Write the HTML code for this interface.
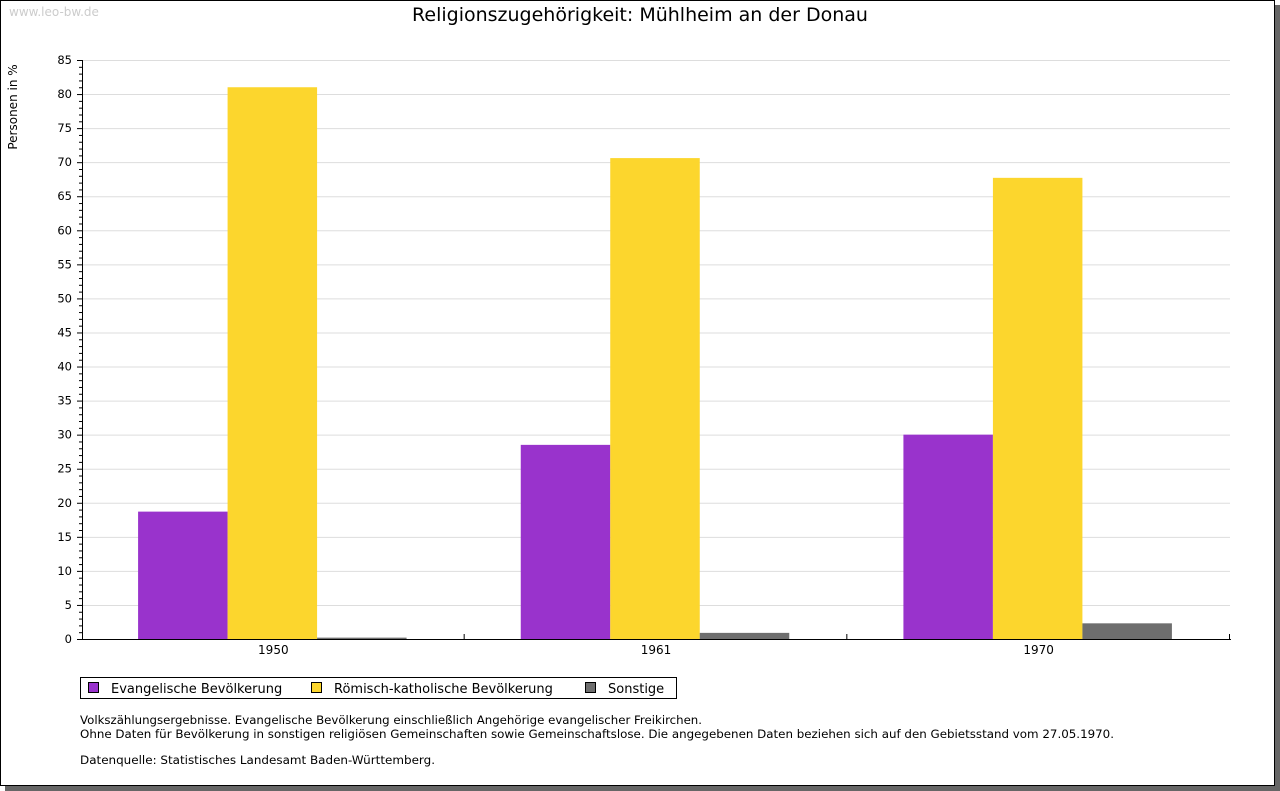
<!DOCTYPE html>
<html><head><meta charset="utf-8"><style>
html,body{margin:0;padding:0;background:#fff;width:1280px;height:791px;overflow:hidden}
svg{display:block;font-family:"DejaVu Sans","Liberation Sans",sans-serif}
</style></head><body>
<svg id="c" width="1280" height="791" xmlns="http://www.w3.org/2000/svg">
<rect x="5" y="5" width="1275" height="786" fill="#666"/>
<rect x="0.5" y="0.5" width="1274" height="785" fill="#fff" stroke="#000"/>
<text x="9" y="16" font-size="12" fill="#ccc">www.leo-bw.de</text>
<text x="640" y="21" font-size="19" text-anchor="middle" fill="#000">Religionszugehörigkeit: Mühlheim an der Donau</text>
<text transform="translate(17,107) rotate(-90)" font-size="12" text-anchor="middle">Personen in %</text>
<g id="grid"></g><g id="bars"></g><g id="axes"></g>
<rect x="80.5" y="677.5" width="596" height="21" fill="#fff" stroke="#000"/>
<g><rect x="88.5" y="682.5" width="10" height="10" fill="#9933cc" stroke="#000"/><text x="111" y="693" font-size="13">Evangelische Bevölkerung</text></g>
<g><rect x="311.5" y="682.5" width="10" height="10" fill="#fcd62d" stroke="#000"/><text x="334" y="693" font-size="13">Römisch-katholische Bevölkerung</text></g>
<g><rect x="585.5" y="682.5" width="10" height="10" fill="#6e6e6e" stroke="#000"/><text x="608" y="693" font-size="13">Sonstige</text></g>
<g font-size="11.9">
<text x="80" y="724" textLength="622" lengthAdjust="spacingAndGlyphs">Volkszählungsergebnisse. Evangelische Bevölkerung einschließlich Angehörige evangelischer Freikirchen.</text>
<text x="80" y="738" textLength="1034" lengthAdjust="spacingAndGlyphs">Ohne Daten für Bevölkerung in sonstigen religiösen Gemeinschaften sowie Gemeinschaftslose. Die angegebenen Daten beziehen sich auf den Gebietsstand vom 27.05.1970.</text>
<text x="80" y="764" textLength="355" lengthAdjust="spacingAndGlyphs">Datenquelle: Statistisches Landesamt Baden-Württemberg.</text>
</g>
</svg>
<script>
const categories=["1950","1961","1970"];
const evangelisch=[18.7,28.5,30.0];
const katholisch=[81.0,70.6,67.7];
const sonstige=[0.2,0.9,2.3];
const yTicks=[0,5,10,15,20,25,30,35,40,45,50,55,60,65,70,75,80,85];
const NS="http://www.w3.org/2000/svg";
const X0=82,X1=1230,Y0=639,Y1=60,YMAX=85;
const y=v=>Y0-(v/YMAX)*(Y0-Y1);
const gw=(X1-X0)/categories.length;
const bw=89.5;
function mk(tag,attrs,parent){const e=document.createElementNS(NS,tag);for(const k in attrs)e.setAttribute(k,attrs[k]);parent.appendChild(e);return e;}
const grid=document.getElementById('grid'),bars=document.getElementById('bars'),axes=document.getElementById('axes');
yTicks.forEach(t=>{
  if(t>0){const l=mk('line',{x1:X0,x2:X1,y1:y(t)+.5,y2:y(t)+.5,stroke:'#dddddd'},grid);
  
  }
  const tx=mk('text',{x:X0-10,y:y(t)+4,'font-size':11.5,'text-anchor':'end'},axes);tx.textContent=t;
  
  
  mk('line',{x1:X0-5,x2:X0,y1:y(t)+.5,y2:y(t)+.5,stroke:'#000'},axes);
});
for(let v=1;v<YMAX;v++){if(v%5)mk('line',{x1:X0-3,x2:X0,y1:y(v)+.5,y2:y(v)+.5,stroke:'#000'},axes);}
const series=[[evangelisch,'#9933cc','bar-evangelisch'],[katholisch,'#fcd62d','bar-katholisch'],[sonstige,'#6e6e6e','bar-sonstige']];
categories.forEach((c,i)=>{
  const gx=X0+i*gw+(gw-3*bw)/2-1;
  series.forEach((s,j)=>{
    const v=s[0][i];
    const r=mk('rect',{x:gx+j*bw,y:y(v),width:bw,height:Y0-y(v),fill:s[1]},bars);
    
    
  });
  const tx=mk('text',{x:X0+(i+.5)*gw,y:Y0+15,'font-size':12,'text-anchor':'middle'},axes);tx.textContent=c;
  
  
  mk('line',{x1:X0+(i+1)*gw-.5,x2:X0+(i+1)*gw-.5,y1:Y0-5,y2:Y0,stroke:'#000'},axes);
});
const ya=mk('line',{x1:X0+.5,x2:X0+.5,y1:Y1,y2:Y0+1,stroke:'#000'},axes);


const xa=mk('line',{x1:X0,x2:X1+1,y1:Y0+.5,y2:Y0+.5,stroke:'#000'},axes);


</script>
</body></html>
